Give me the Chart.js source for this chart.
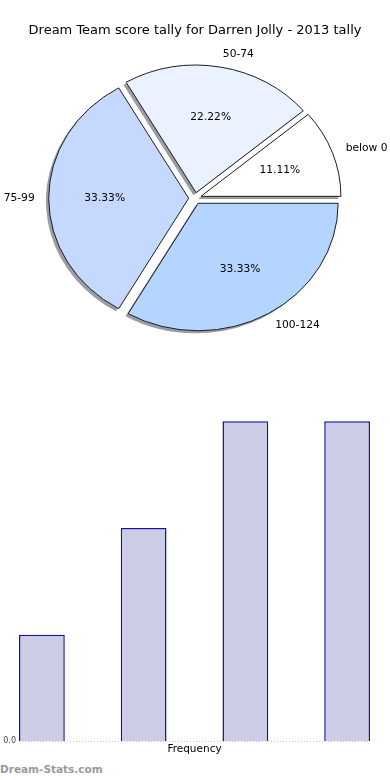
<!DOCTYPE html>
<html>
<head>
<meta charset="utf-8">
<script src="https://cdn.jsdelivr.net/npm/chart.js@4/dist/chart.umd.min.js"></script>
<style>
  html, body { margin: 0; padding: 0; background: #fff; width: 390px; height: 780px; overflow: hidden; }
  #pieWrap { position: absolute; left: 0; top: 0; width: 390px; height: 349px; }
  #barWrap { position: absolute; left: 0; top: 390px; width: 390px; height: 370px; }
  #brand { position: absolute; left: 0; top: 763px; font: bold 10.5px "DejaVu Sans", sans-serif; color: #9a9a9a; white-space: nowrap; }
</style>
</head>
<body>
<div id="pieWrap"><canvas id="pie" width="390" height="349"></canvas></div>
<div id="barWrap"><canvas id="bar" width="390" height="370"></canvas></div>
<div id="brand">Dream-Stats.com</div>
<script>
// ---- data ----
const chartTitle = 'Dream Team score tally for Darren Jolly - 2013 tally';
const categories = ['below 0', '50-74', '75-99', '100-124'];
const counts = [1, 2, 3, 3];
const barAxisTitle = 'Frequency';
const yTickLabels = ['0.0'];

// ---- styles ----
const sliceColors = ['#ffffff', '#eaf1ff', '#c5d9ff', '#b4d5ff'];
const FONT = '"DejaVu Sans", sans-serif';
const PIE_R = 127.5;        // vertical radius (px)
const PIE_SX = 140 / 127.5; // horizontal stretch (elliptical pie)
const EXPLODE = 0.045;      // fraction of radius
const SHADOW = { dx: -2.5, dy: 2.6, color: 'rgba(55,60,75,0.5)' };

const total = counts.reduce((a, b) => a + b, 0);

// Pie drawn counter-clockwise from 3 o'clock (reverse order, clockwise in Chart.js)
const pieLabels = categories.slice().reverse();
const pieData = counts.slice().reverse();
const pieColors = sliceColors.slice().reverse();

const ellipsePie = {
  id: 'ellipsePie',
  beforeDatasetDraw(chart) {
    const ctx = chart.ctx;
    const arcs = chart.getDatasetMeta(0).data;
    if (!arcs.length) return false;
    const cx = arcs[0].x, cy = arcs[0].y;
    const ex = EXPLODE * PIE_R;
    ctx.save();
    ctx.translate(cx, cy); ctx.scale(PIE_SX, 1); ctx.translate(-cx, -cy);
    // shadows
    arcs.forEach(a => {
      const m = (a.startAngle + a.endAngle) / 2;
      ctx.save();
      ctx.translate(ex * Math.cos(m) + SHADOW.dx, ex * Math.sin(m) + SHADOW.dy);
      ctx.beginPath();
      ctx.moveTo(a.x, a.y);
      ctx.arc(a.x, a.y, a.outerRadius, a.startAngle, a.endAngle);
      ctx.closePath();
      ctx.fillStyle = SHADOW.color;
      ctx.fill();
      ctx.restore();
    });
    // slices
    arcs.forEach(a => {
      const m = (a.startAngle + a.endAngle) / 2;
      ctx.save();
      ctx.translate(ex * Math.cos(m), ex * Math.sin(m));
      a.draw(ctx);
      ctx.restore();
    });
    ctx.restore();
    // labels
    ctx.save();
    ctx.fillStyle = '#000';
    ctx.textBaseline = 'middle';
    arcs.forEach((a, i) => {
      const m = (a.startAngle + a.endAngle) / 2;
      const ux = Math.cos(m), uy = Math.sin(m);
      ctx.font = '10.7px ' + FONT;
      const lx = cx + PIE_SX * PIE_R * (EXPLODE + 1.1) * ux;
      const ly = cy + PIE_R * (EXPLODE + 1.1) * uy;
      ctx.textAlign = ux > 1e-9 ? 'left' : 'right';
      ctx.fillText(pieLabels[i], lx, ly);
      const px = cx + PIE_SX * PIE_R * (EXPLODE + 0.6) * ux;
      const py = cy + PIE_R * (EXPLODE + 0.6) * uy;
      ctx.textAlign = 'center';
      ctx.fillText((pieData[i] / total * 100).toFixed(2) + '%', px, py);
    });
    ctx.restore();
    return false;
  }
};

new Chart(document.getElementById('pie'), {
  type: 'pie',
  data: {
    labels: pieLabels,
    datasets: [{
      data: pieData,
      backgroundColor: pieColors,
      borderColor: '#111',
      borderWidth: 0.9
    }]
  },
  options: {
    responsive: false,
    animation: false,
    rotation: 90,
    radius: PIE_R,
    layout: { padding: 0 },
    plugins: {
      legend: { display: false },
      tooltip: { enabled: false },
      title: {
        display: true,
        text: chartTitle,
        color: '#000',
        font: { family: FONT, size: 13, weight: 'normal', lineHeight: 1.2 },
        padding: { top: 23, bottom: 9 }
      }
    }
  },
  plugins: [ellipsePie]
});

// ---- bar chart ----
const HALF_BAR = 0.225;
new Chart(document.getElementById('bar'), {
  type: 'bar',
  data: {
    datasets: [{
      data: counts.map((v, i) => ({ x: i, y: v })),
      backgroundColor: '#ccccE6',
      borderColor: '#1414a0',
      borderWidth: 1.5,
      categoryPercentage: 1,
      barPercentage: HALF_BAR * 2
    }]
  },
  options: {
    responsive: false,
    animation: false,
    layout: { padding: { top: 10, left: 0, right: 20, bottom: 0 } },
    plugins: { legend: { display: false }, tooltip: { enabled: false } },
    scales: {
      x: {
        type: 'linear',
        offset: false,
        min: -HALF_BAR,
        max: counts.length - 1 + HALF_BAR,
        afterBuildTicks(scale) { scale.ticks = counts.map((_, i) => ({ value: i })); },
        ticks: { display: false },
        grid: { display: false, drawTicks: false, offset: false },
        border: { display: false },
        title: {
          display: true,
          text: barAxisTitle,
          color: '#000',
          font: { family: FONT, size: 10.5 },
          padding: { top: 2, bottom: 4 }
        }
      },
      y: {
        min: 0,
        max: 3.2,
        afterBuildTicks(scale) { scale.ticks = [{ value: 0 }]; },
        afterFit(scale) { scale.width = 19; },
        ticks: {
          padding: 3,
          color: '#444',
          font: { family: FONT, size: 8 },
          callback: (v, i) => yTickLabels[i]
        },
        grid: { color: '#c8c8c8', lineWidth: 1, drawTicks: false },
        border: { display: false, dash: [1, 2] }
      }
    }
  }
});
</script>
</body>
</html>
